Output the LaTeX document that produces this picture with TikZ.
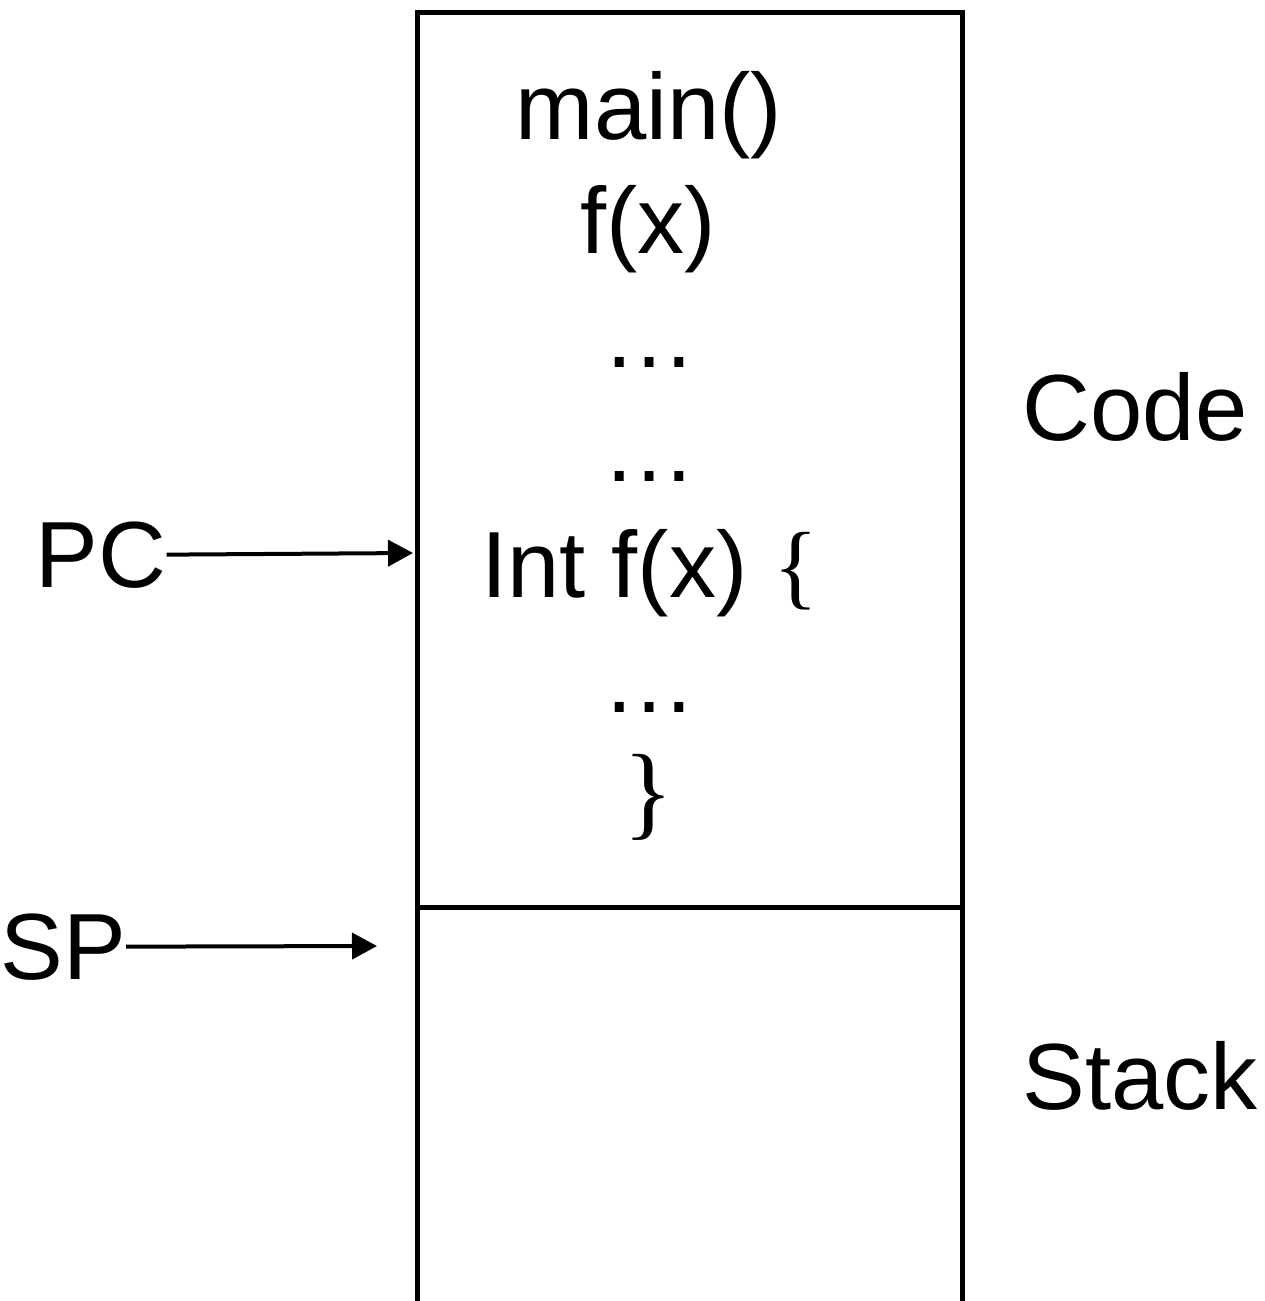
\documentclass[tikz,border=0pt]{standalone}
\usepackage{fontspec}
\setmainfont{Liberation Sans}
\newfontfamily\bracefont{Liberation Serif}
\usetikzlibrary{arrows.meta}

\tikzset{
    lbl/.style={inner sep=0pt, anchor=base, font=\fontsize{47}{56}\selectfont},
    ptr/.style={line width=2pt, -{Triangle[length=12.5pt,width=13pt]}},
    wall/.style={line width=2.5pt}
}

\begin{document}
\begin{tikzpicture}[x=0.5pt,y=-0.5pt]
        \useasboundingbox (0,0) rectangle (1264,1301);
        % memory column, open at the bottom
        \draw[wall] (417,1320) -- (417,12) % left side up
                    -- (962,12)            % top edge
                    -- (962,1320);         % right side down
        \draw[wall] (417,907) -- (962,907); % code / stack border

        % code listing
        \node[lbl] (main) at (649,139) {main()};
        \node[lbl] (fx)   at (648,253) {f(x)};
        \node[lbl] (dotsa) at (649,367) {…};
        \node[lbl] (dotsb) at (649,481) {…};
        \node[lbl] (intf) at (650,597) {Int f(x) {\bracefont\{}};
        \node[lbl] (dotsc) at (649,712) {…};
        \node[lbl] (close) at (648,826) {\fontsize{52}{60}\bracefont\}};

        % region names
        \node[lbl] (code)  at (1135,440)  {Code};
        \node[lbl] (stack) at (1140,1109) {Stack};

        % registers
        \node[lbl] (pc) at (101,587) {PC};
        \node[lbl] (sp) at (63,979)  {SP};
        \coordinate (pctip) at (413,553);
        \coordinate (sptip) at (377,946);
        \draw[ptr] (pc.east) -- (pctip);
        \draw[ptr] (sp.east) -- (sptip);
    \end{tikzpicture}
\end{document}
